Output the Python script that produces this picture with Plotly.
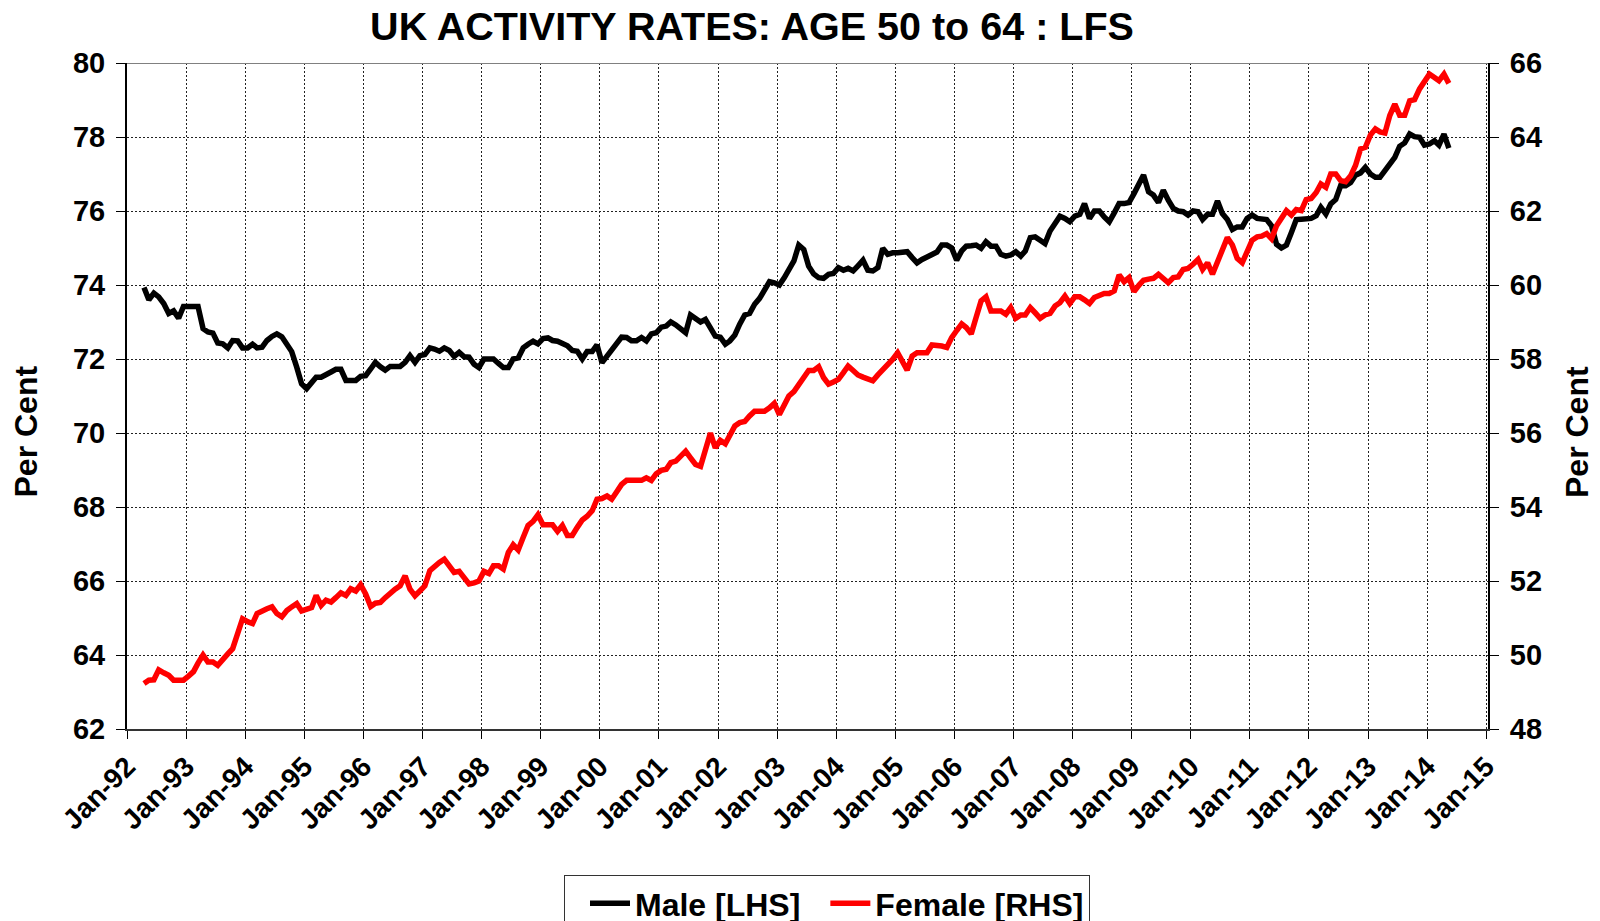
import pandas as pd
import plotly.graph_objects as go

# Monthly LFS activity rates, age 50 to 64 (Apr-1992 .. May-2014)
start_month = "1992-04"
n_months = 266

male = [
    73.93, 73.60, 73.78, 73.68, 73.50, 73.23, 73.30, 73.10, 73.42, 73.42,
    73.42, 73.42, 72.82, 72.73, 72.70, 72.43, 72.41, 72.30, 72.50, 72.49,
    72.30, 72.30, 72.40, 72.30, 72.32, 72.50, 72.61, 72.68, 72.60, 72.40,
    72.20, 71.78, 71.33, 71.20, 71.38, 71.51, 71.51, 71.56, 71.65, 71.72,
    71.72, 71.42, 71.42, 71.42, 71.53, 71.55, 71.73, 71.91, 71.79, 71.70,
    71.80, 71.80, 71.80, 71.91, 72.09, 71.91, 72.09, 72.12, 72.30, 72.27,
    72.21, 72.30, 72.23, 72.07, 72.18, 72.06, 72.05, 71.86, 71.77, 72.00,
    72.00, 72.00, 71.88, 71.77, 71.77, 72.00, 72.03, 72.30, 72.40, 72.48,
    72.41, 72.55, 72.57, 72.50, 72.48, 72.41, 72.36, 72.23, 72.21, 72.00,
    72.20, 72.20, 72.38, 71.90, 72.08, 72.22, 72.40, 72.59, 72.58, 72.49,
    72.49, 72.58, 72.49, 72.68, 72.71, 72.86, 72.89, 73.00, 72.92, 72.80,
    72.71, 73.19, 73.10, 73.00, 73.07, 72.86, 72.62, 72.59, 72.40, 72.49,
    72.65, 72.94, 73.19, 73.23, 73.48, 73.64, 73.84, 74.09, 74.06, 74.00,
    74.20, 74.42, 74.65, 75.08, 74.96, 74.51, 74.30, 74.20, 74.18, 74.29,
    74.31, 74.47, 74.40, 74.45, 74.38, 74.52, 74.67, 74.40, 74.38, 74.47,
    74.99, 74.83, 74.87, 74.87, 74.90, 74.90, 74.74, 74.60, 74.69, 74.75,
    74.81, 74.89, 75.08, 75.08, 75.00, 74.67, 74.92, 75.05, 75.06, 75.08,
    74.99, 75.17, 75.05, 75.05, 74.83, 74.78, 74.81, 74.90, 74.78, 74.92,
    75.28, 75.30, 75.21, 75.12, 75.46, 75.66, 75.86, 75.80, 75.71, 75.86,
    75.91, 76.20, 75.80, 76.00, 76.00, 75.84, 75.71, 75.95, 76.20, 76.20,
    76.23, 76.47, 76.77, 76.97, 76.52, 76.43, 76.23, 76.56, 76.29, 76.07,
    76.00, 75.98, 75.89, 76.00, 75.98, 75.77, 75.91, 75.91, 76.27, 75.93,
    75.77, 75.50, 75.57, 75.57, 75.80, 75.89, 75.80, 75.80, 75.77, 75.60,
    75.10, 75.00, 75.08, 75.42, 75.77, 75.78, 75.78, 75.80, 75.87, 76.10,
    75.92, 76.19, 76.31, 76.68, 76.68, 76.77, 76.97, 77.03, 77.18, 77.00,
    76.91, 76.91, 77.09, 77.27, 77.45, 77.75, 77.84, 78.08, 78.01, 77.99,
    77.78, 77.81, 77.90, 77.78, 78.08, 77.70,
]

female = [
    49.23, 49.32, 49.33, 49.60, 49.52, 49.45, 49.32, 49.32, 49.32, 49.43,
    49.55, 49.78, 50.00, 49.81, 49.81, 49.72, 49.90, 50.03, 50.17, 50.58,
    50.98, 50.90, 50.85, 51.12, 51.20, 51.25, 51.30, 51.12, 51.03, 51.20,
    51.30, 51.39, 51.19, 51.23, 51.28, 51.61, 51.34, 51.48, 51.43, 51.55,
    51.68, 51.61, 51.79, 51.73, 51.90, 51.65, 51.31, 51.40, 51.42, 51.55,
    51.69, 51.78, 51.87, 52.14, 51.78, 51.60, 51.73, 51.87, 52.28, 52.41,
    52.50, 52.59, 52.41, 52.23, 52.26, 52.10, 51.92, 51.95, 52.00, 52.26,
    52.20, 52.41, 52.41, 52.32, 52.77, 52.98, 52.84, 53.18, 53.50, 53.61,
    53.79, 53.52, 53.52, 53.52, 53.34, 53.50, 53.23, 53.23, 53.45, 53.65,
    53.75, 53.90, 54.21, 54.23, 54.30, 54.21, 54.41, 54.61, 54.72, 54.72,
    54.72, 54.72, 54.79, 54.72, 54.90, 54.99, 55.02, 55.20, 55.24, 55.38,
    55.51, 55.33, 55.15, 55.10, 55.56, 56.00, 55.60, 55.80, 55.71, 55.96,
    56.19, 56.28, 56.31, 56.46, 56.59, 56.59, 56.59, 56.68, 56.80, 56.50,
    56.73, 57.00, 57.12, 57.32, 57.51, 57.69, 57.69, 57.79, 57.50, 57.32,
    57.38, 57.45, 57.63, 57.81, 57.69, 57.57, 57.51, 57.45, 57.41, 57.57,
    57.70, 57.87, 57.99, 58.17, 57.90, 57.70, 58.08, 58.17, 58.17, 58.17,
    58.38, 58.38, 58.35, 58.31, 58.58, 58.77, 58.95, 58.85, 58.68, 59.12,
    59.57, 59.68, 59.30, 59.30, 59.30, 59.21, 59.39, 59.10, 59.19, 59.19,
    59.39, 59.25, 59.10, 59.19, 59.23, 59.43, 59.52, 59.70, 59.50, 59.68,
    59.68, 59.60, 59.50, 59.66, 59.72, 59.77, 59.77, 59.84, 60.27, 60.09,
    60.20, 59.82, 60.00, 60.13, 60.16, 60.18, 60.29, 60.18, 60.06, 60.20,
    60.22, 60.42, 60.45, 60.56, 60.69, 60.42, 60.60, 60.29, 60.60, 60.92,
    61.28, 61.08, 60.72, 60.60, 60.92, 61.21, 61.30, 61.32, 61.39, 61.25,
    61.60, 61.80, 62.01, 61.89, 62.04, 62.01, 62.31, 62.34, 62.50, 62.73,
    62.64, 63.00, 63.00, 62.82, 62.79, 62.95, 63.23, 63.68, 63.72, 64.05,
    64.22, 64.14, 64.11, 64.58, 64.89, 64.59, 64.59, 64.98, 65.01, 65.30,
    65.48, 65.70, 65.61, 65.52, 65.70, 65.45,
]

dates = pd.period_range(start=start_month, periods=n_months, freq="M").to_timestamp() + pd.Timedelta(days=14)

title_text = "UK ACTIVITY RATES: AGE 50 to 64 : LFS"
left_ticks = [62, 64, 66, 68, 70, 72, 74, 76, 78, 80]
right_ticks = [48, 50, 52, 54, 56, 58, 60, 62, 64, 66]

FONT = "Liberation Sans, Arial, sans-serif"

# the page body has an 8px margin: the figure is placed at (8, 8)
W, H = 1592, 913
L, R, T, B = 119, 112, 55, 192
PW, PH = W - L - R, H - T - B

fig = go.Figure()
fig.add_trace(go.Scatter(x=dates, y=male, name="Male [LHS]", mode="lines",
                         line=dict(color="black", width=5.5), yaxis="y"))
fig.add_trace(go.Scatter(x=dates, y=female, name="Female [RHS]", mode="lines",
                         line=dict(color="#ff0000", width=5.5), yaxis="y2"))

ytickfont = dict(family=FONT, size=29, color="black", weight="bold")
xtickfont = dict(family=FONT, size=28, color="black", weight="bold")
gridstyle = dict(showgrid=True, gridcolor="#222", griddash="2px,2px", gridwidth=1)

fig.update_layout(
    width=W, height=H,
    paper_bgcolor="white", plot_bgcolor="white",
    margin=dict(l=L, r=R, t=T, b=B, autoexpand=False),
    title=dict(text=title_text, x=744 / W, xanchor="center", xref="container",
               y=1 - 18 / H, yanchor="middle", yref="container",
               font=dict(family=FONT, size=39.5, color="black", weight="bold")),
    xaxis=dict(
        type="date", range=["1992-01-01", "2015-01-12"],
        tick0="1992-01-01", dtick="M12", tickformat="%b-%y", tickangle=-45,
        tickfont=xtickfont, ticks="outside", ticklen=8, tickcolor="black",
        showline=True, linecolor="#333", linewidth=2,
        zeroline=False, automargin=False, **gridstyle,
    ),
    yaxis=dict(
        range=[62, 80], tickvals=left_ticks, tickfont=ytickfont,
        ticks="outside", ticklen=9, tickcolor="black", ticklabelstandoff=5,
        showline=True, linecolor="black", linewidth=2,
        zeroline=False, automargin=False, **gridstyle,
    ),
    yaxis2=dict(
        range=[48, 66], tickvals=right_ticks, tickfont=ytickfont,
        overlaying="y", side="right",
        ticks="outside", ticklen=9, tickcolor="black", ticklabelstandoff=5,
        showline=True, linecolor="black", linewidth=2,
        showgrid=False, zeroline=False, automargin=False,
    ),
    legend=dict(
        orientation="h", x=819 / W, xref="container", xanchor="center",
        y=-(867 - (T + PH)) / PH, yanchor="top",
        font=dict(family=FONT, size=32, color="black", weight="bold"),
        bordercolor="#333", borderwidth=1, bgcolor="white",
        itemwidth=40, tracegroupgap=0, indentation=20,
    ),
    showlegend=True,
    annotations=[
        dict(text="Per Cent", xref="paper", yref="paper",
             x=(17.5 - L) / PW, y=(T + PH - 424) / PH,
             textangle=-90, showarrow=False, xanchor="center", yanchor="middle",
             font=dict(family=FONT, size=32, color="black", weight="bold")),
        dict(text="Per Cent", xref="paper", yref="paper",
             x=(1569 - L) / PW, y=(T + PH - 424) / PH,
             textangle=-90, showarrow=False, xanchor="center", yanchor="middle",
             font=dict(family=FONT, size=32, color="black", weight="bold")),
    ],
    shapes=[dict(type="line", xref="paper", yref="y", x0=0, x1=1, y0=80, y1=80,
                 line=dict(color="#808080", width=2))],
)

fig.write_html("out.html")
